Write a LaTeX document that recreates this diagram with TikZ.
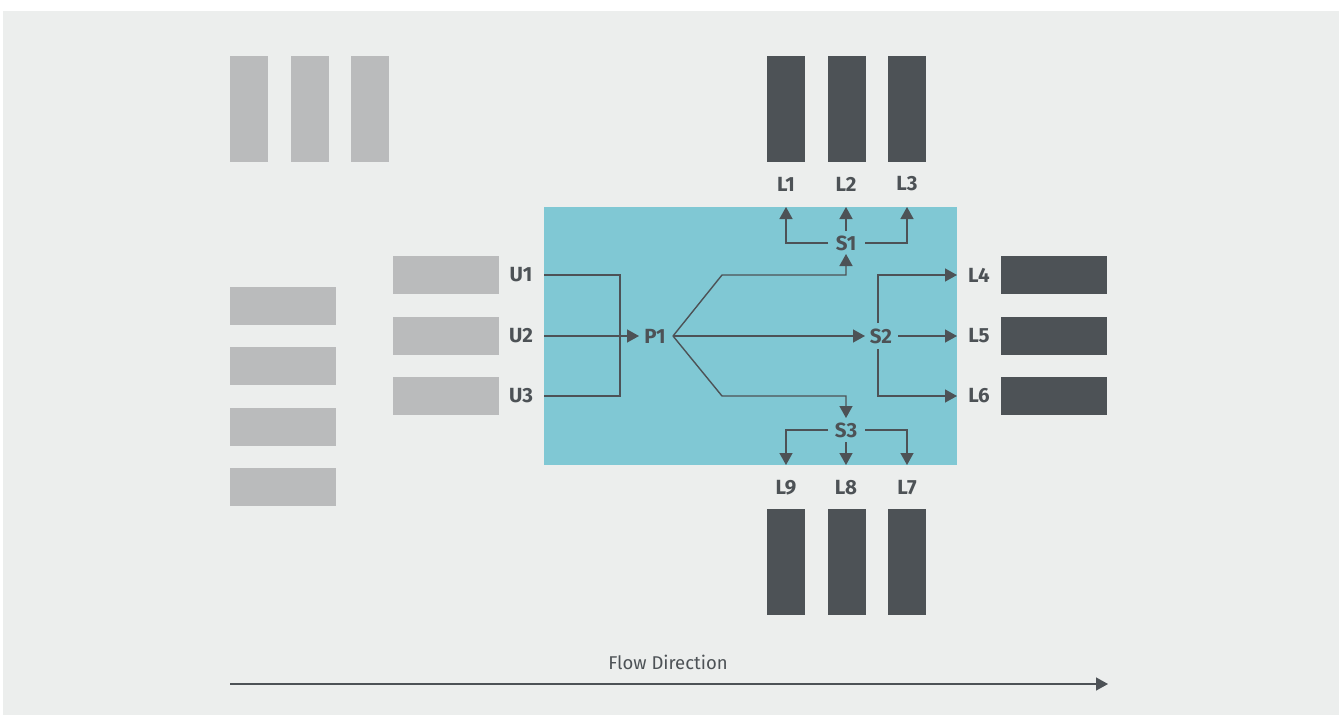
\documentclass[tikz,border=0pt]{standalone}
\usepackage{fontspec}
\setmainfont{Fira Sans}
\usetikzlibrary{arrows.meta}
\definecolor{bgpanel}{HTML}{ECEEED}
\definecolor{idlebar}{HTML}{BABBBC}
\definecolor{activebar}{HTML}{4D5256}
\definecolor{zone}{HTML}{80C8D4}
\definecolor{ink}{HTML}{4D5256}
\tikzset{
  idle/.style={fill=idlebar, draw=none},
  active/.style={fill=activebar, draw=none},
  lbl/.style={text=ink, font=\fontsize{20.5}{20.5}\selectfont\bfseries, inner sep=1pt},
  flow/.style={draw=ink, line width=1.4pt},
  flowarrow/.style={flow, -{Triangle[length=12pt,width=13pt]}},
}
\begin{document}
\begin{tikzpicture}[x=1pt,y=-1pt]
\useasboundingbox (0,0) rectangle (1339,715);
\fill[white] (0,0) rectangle (1339,715);
\fill[bgpanel] (3,11) rectangle (1339,715);

% idle storage, top-left
\foreach \x in {230,291,351} \fill[idle] (\x,56) rectangle ++(38,106);
% idle storage, left column
\foreach \y in {287,347,408,468} \fill[idle] (230,\y) rectangle ++(106,38);
% upstream bars
\foreach \y in {256,317,377} \fill[idle] (393,\y) rectangle ++(106,38);

% processing zone
\fill[zone] (544,207) rectangle (957,465);

% downstream bars
\foreach \x in {767,828,888} {
  \fill[active] (\x,56) rectangle ++(38,106);
  \fill[active] (\x,509) rectangle ++(38,106);
}
\foreach \y in {256,317,377} \fill[active] (1001,\y) rectangle ++(106,38);

% labels
\node[lbl] (U1) at (521,275) {U1};
\node[lbl] (U2) at (521,336) {U2};
\node[lbl] (U3) at (521,396) {U3};
\node[lbl] (P1) at (655,336) {P1};
\node[lbl] (S1) at (846,243) {S1};
\node[lbl] (S2) at (881,336) {S2};
\node[lbl] (S3) at (846,430) {S3};
\node[lbl] (L1) at (786,184) {L1};
\node[lbl] (L2) at (846,184) {L2};
\node[lbl] (L3) at (907,184) {L3};
\node[lbl] (L4) at (979,275) {L4};
\node[lbl] (L5) at (979,336) {L5};
\node[lbl] (L6) at (979,396) {L6};
\node[lbl] (L9) at (786,488) {L9};
\node[lbl] (L8) at (846,488) {L8};
\node[lbl] (L7) at (907,488) {L7};

% merge into P1
\draw[flow] (544,275) -| (620,396) -- (544,396);
\draw[flowarrow] (544,336) -- (639,336);

% split from P1
\coordinate (p) at (673,336);
\draw[flowarrow] (p) -- (722,275) -- (846,275) -- (846,254);
\draw[flowarrow] (p) -- (865,336);
\draw[flowarrow] (p) -- (722,396) -- (846,396) -- (846,418);

% S1 outlets
\draw[flowarrow] (828,243) -| (786,207);
\draw[flowarrow] (846,231) -- (846,207);
\draw[flowarrow] (865,243) -| (907,207);

% S2 outlets
\draw[flowarrow] (878,323) |- (957,275);
\draw[flowarrow] (898,336) -- (957,336);
\draw[flowarrow] (878,349) |- (957,396);

% S3 outlets
\draw[flowarrow] (828,430) -| (786,465);
\draw[flowarrow] (846,442) -- (846,465);
\draw[flowarrow] (865,430) -| (907,465);

% flow direction
\coordinate (fs) at (230,684);
\coordinate (fe) at (1108,684);
\draw[flowarrow] (fs) -- (fe);
\node[text=ink, font=\fontsize{18.5}{18.5}\selectfont] (fd) at (668,662) {Flow Direction};
\end{tikzpicture}
\end{document}
